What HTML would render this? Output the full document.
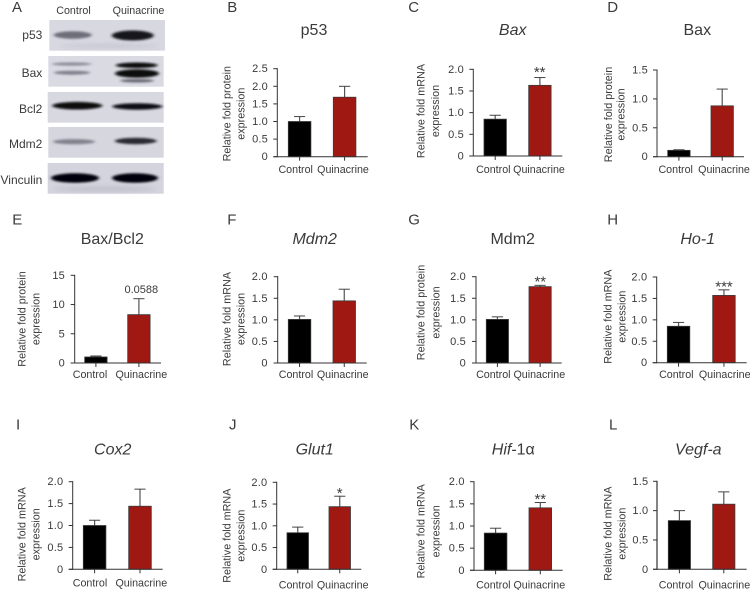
<!DOCTYPE html>
<html lang="en">
<head>
<meta charset="utf-8">
<title>Quinacrine western blot and expression charts</title>
<style>
html,body{margin:0;padding:0;background:#fff;width:750px;height:590px;overflow:hidden}
svg{display:block}
text{font-family:"Liberation Sans",Arial,sans-serif;fill:#3a3a3a}
</style>
</head>
<body>
<svg id="figure" xmlns="http://www.w3.org/2000/svg" width="750" height="590" viewBox="0 0 750 590">
  <defs>
    <filter id="blur" x="-30%" y="-150%" width="160%" height="400%"><feGaussianBlur stdDeviation="1.6 1.1"/></filter>
    <filter id="blur2" x="-30%" y="-150%" width="160%" height="400%"><feGaussianBlur stdDeviation="3 2.4"/></filter>
  </defs>
  <g id="blot">
    <text x="73.5" y="14" font-size="10.7" text-anchor="middle">Control</text>
    <text x="138.5" y="14" font-size="10.7" text-anchor="middle">Quinacrine</text>

    <g>
      <rect x="49.3" y="20" width="115.7" height="30.7" fill="#d8d8e1"/>
      <ellipse cx="72.7" cy="35" rx="19" ry="3.8" fill="#6e6e7a" filter="url(#blur)"/>
      <ellipse cx="132.7" cy="35.5" rx="21" ry="5" fill="#17171c" filter="url(#blur)"/>
      <ellipse cx="110" cy="46" rx="50" ry="2" fill="#c6c6d0" filter="url(#blur2)"/>
      <text x="42.3" y="39" font-size="12" text-anchor="end">p53</text>
    </g>
    <g>
      <rect x="48.3" y="56" width="115.4" height="30.7" fill="#dadae3"/>
      <ellipse cx="71.7" cy="64" rx="20" ry="1.6" fill="#8c8c98" filter="url(#blur)"/>
      <ellipse cx="72" cy="72.7" rx="18" ry="2" fill="#80808c" filter="url(#blur)"/>
      <ellipse cx="136.7" cy="65.3" rx="21" ry="2.8" fill="#0c0c10" filter="url(#blur)"/>
      <ellipse cx="137" cy="73.5" rx="22" ry="4.2" fill="#08080c" filter="url(#blur)"/>
      <ellipse cx="137" cy="80.7" rx="17" ry="1.8" fill="#6a6a76" filter="url(#blur)"/>
      <text x="42.3" y="77" font-size="12" text-anchor="end">Bax</text>
    </g>
    <g>
      <rect x="47.7" y="92" width="116" height="30.7" fill="#d8d8e1"/>
      <ellipse cx="77.3" cy="105.7" rx="25" ry="3.8" fill="#0a0a0e" filter="url(#blur)"/>
      <ellipse cx="137.3" cy="106.5" rx="25" ry="3.2" fill="#111116" filter="url(#blur)"/>
      <text x="42.3" y="113" font-size="12" text-anchor="end">Bcl2</text>
    </g>
    <g>
      <rect x="48.3" y="127" width="115.4" height="30.7" fill="#d6d6df"/>
      <ellipse cx="74" cy="141.7" rx="21" ry="2.6" fill="#82828e" filter="url(#blur)"/>
      <ellipse cx="135.7" cy="141" rx="21" ry="3.2" fill="#2a2a32" filter="url(#blur)"/>
      <text x="42.3" y="148" font-size="12" text-anchor="end">Mdm2</text>
    </g>
    <g>
      <rect x="47.7" y="163" width="116" height="30.7" fill="#d4d4de"/>
      <ellipse cx="75" cy="178" rx="24" ry="4.8" fill="#060608" filter="url(#blur)"/>
      <ellipse cx="135" cy="178" rx="23" ry="4.8" fill="#060608" filter="url(#blur)"/>
      <ellipse cx="105" cy="189" rx="52" ry="2" fill="#bcbcc8" filter="url(#blur2)"/>
      <text x="42.3" y="184" font-size="12" text-anchor="end">Vinculin</text>
    </g>
  </g>
</svg>
<script>
// Chart data
const categories = ['Control', 'Quinacrine'];
const ticks25 = ['0', '0.5', '1.0', '1.5', '2.0', '2.5'];
const ticks20 = ['0', '0.5', '1.0', '1.5', '2.0'];
const ticks15 = ['0', '0.5', '1.0', '1.5'];
const ticksE = ['0', '5', '10', '15'];

const valuesB = [1.0, 1.69];   const errorsB = [0.14, 0.31];
const valuesC = [0.85, 1.63];  const errorsC = [0.09, 0.18];
const valuesD = [0.11, 0.88];  const errorsD = [0.01, 0.29];
const valuesE = [1.03, 8.27];  const errorsE = [0.17, 2.73];
const valuesF = [1.01, 1.44];  const errorsF = [0.08, 0.27];
const valuesG = [1.01, 1.77];  const errorsG = [0.06, 0.03];
const valuesH = [0.85, 1.57];  const errorsH = [0.09, 0.13];
const valuesI = [1.0, 1.44];   const errorsI = [0.12, 0.39];
const valuesJ = [0.84, 1.44];  const errorsJ = [0.13, 0.24];
const valuesK = [0.84, 1.41];  const errorsK = [0.11, 0.12];
const valuesL = [0.83, 1.11];  const errorsL = [0.17, 0.21];

const PROTEIN = 'Relative fold protein';
const MRNA = 'Relative fold mRNA';

const panels = [
  {id:'b',letter:'B',lx:227.3,ly:12,title:'p53',italic:false,tc:314,tb:35,ticks:ticks25,values:valuesB,errors:errorsB,ylabel:PROTEIN,axX:277.3,y0:156.7,yT:68.7,right:367.7,bar:288.3,step:45,w:22.6,cat1:295.7,cat2:343,catY:173,yl1:226.7,yl2:240.7,ylc:113.7,tr:268},
  {id:'c',letter:'C',lx:408.3,ly:12,title:'Bax',italic:true,tc:512.7,tb:35,ticks:ticks20,values:valuesC,errors:errorsC,ylabel:MRNA,axX:473.3,y0:156,yT:69.3,right:562.3,bar:484,step:44.7,w:22.4,cat1:493.3,cat2:539,catY:173,yl1:421,yl2:435.3,ylc:111,tr:464,note:'**',nx:539.7,ny:73},
  {id:'d',letter:'D',lx:607.3,ly:12,title:'Bax',italic:false,tc:697.3,tb:35,ticks:ticks15,values:valuesD,errors:errorsD,ylabel:PROTEIN,axX:657,y0:156.7,yT:70,right:744,bar:667.7,step:43.3,w:22.4,cat1:675.7,cat2:724,catY:173,yl1:608.3,yl2:621,ylc:114.5,tr:648},
  {id:'e',letter:'E',lx:12.3,ly:224.3,title:'Bax/Bcl2',italic:false,tc:112.3,tb:244,ticks:ticksE,values:valuesE,errors:errorsE,ylabel:PROTEIN,axX:74.7,y0:363,yT:275.3,right:161,bar:84.7,step:43,w:22.4,cat1:90,cat2:141.3,catY:378,yl1:21.7,yl2:36,ylc:319,tr:65,note:'0.0588',nx:141.3,ny:293,noteSize:11},
  {id:'f',letter:'F',lx:227.3,ly:224.3,title:'Mdm2',italic:true,tc:314.7,tb:244,ticks:ticks20,values:valuesF,errors:errorsF,ylabel:MRNA,axX:277.7,y0:363,yT:276.7,right:366.7,bar:288.3,step:44.7,w:22.5,cat1:296,cat2:342.7,catY:378,yl1:226.7,yl2:240.7,ylc:319,tr:267.7},
  {id:'g',letter:'G',lx:408.3,ly:224.3,title:'Mdm2',italic:false,tc:512.7,tb:244,ticks:ticks20,values:valuesG,errors:errorsG,ylabel:PROTEIN,axX:476,y0:363,yT:276.7,right:561.7,bar:486.3,step:42.7,w:22.2,cat1:493.3,cat2:539.3,catY:378,yl1:421,yl2:435.7,ylc:312.5,tr:466,note:'**',nx:540.3,ny:282.5},
  {id:'h',letter:'H',lx:607.3,ly:224.3,title:'Ho-1',italic:true,tc:697.7,tb:244,ticks:ticks20,values:valuesH,errors:errorsH,ylabel:MRNA,axX:656.7,y0:362.7,yT:277,right:746.7,bar:667.3,step:45.4,w:22.5,cat1:676.3,cat2:724.7,catY:378,yl1:607.7,yl2:621.7,ylc:316.7,tr:647.3,note:'***',nx:724,ny:287.5},
  {id:'i',letter:'I',lx:16,ly:429.3,title:'Cox2',italic:true,tc:112.7,tb:454.3,ticks:ticks20,values:valuesI,errors:errorsI,ylabel:MRNA,axX:72.7,y0:569.3,yT:481.7,right:162.7,bar:83.3,step:45.4,w:22.6,cat1:90,cat2:141.3,catY:586.7,yl1:21.7,yl2:36,ylc:534.3,tr:63.3},
  {id:'j',letter:'J',lx:229,ly:429.3,title:'Glut1',italic:true,tc:314.7,tb:454.3,ticks:ticks20,values:valuesJ,errors:errorsJ,ylabel:MRNA,axX:276.7,y0:569.3,yT:482.3,right:361.3,bar:287,step:42,w:21.5,cat1:296,cat2:342.7,catY:588.5,yl1:226.7,yl2:240.7,ylc:535.7,tr:267.3,note:'*',nx:339.7,ny:494},
  {id:'k',letter:'K',lx:409.3,ly:429.3,title:'Hif',italic:true,titleSuffix:'-1α',tc:513.3,tb:454.3,ticks:ticks20,values:valuesK,errors:errorsK,ylabel:MRNA,axX:474,y0:570.3,yT:481.7,right:562.7,bar:484.3,step:44.7,w:22.6,cat1:493.3,cat2:539.3,catY:588.5,yl1:421,yl2:435.7,ylc:531.3,tr:464.7,note:'**',nx:540.3,ny:500},
  {id:'l',letter:'L',lx:609,ly:429.3,title:'Vegf-a',italic:true,tc:698.3,tb:454.3,ticks:ticks15,values:valuesL,errors:errorsL,ylabel:MRNA,axX:657,y0:569.3,yT:481.3,right:746.7,bar:668.3,step:44.4,w:22.2,cat1:676,cat2:724.3,catY:588.5,yl1:607.7,yl2:621.7,ylc:533.7,tr:648.3,yAxisColor:'#666',yAxisWidth:1.6}
];

const NS = 'http://www.w3.org/2000/svg';
const figure = document.getElementById('figure');

function make(tag, attrs, parent, text) {
  const node = document.createElementNS(NS, tag);
  for (const key in attrs) node.setAttribute(key, attrs[key]);
  if (text !== undefined) node.textContent = text;
  parent.appendChild(node);
  return node;
}

// Panel A letter
const letterA = make('text', {x: 12, y: 12, 'font-size': 15}, figure, 'A');



panels.forEach(function (p) {
  const ymax = Math.max.apply(null, p.ticks.map(Number));
  const yScale = function (v) { return p.y0 - (v / ymax) * (p.y0 - p.yT); };
  const xScale = function (i) { return p.bar + i * p.step; };
  const catCenter = [p.cat1, p.cat2];

  const group = make('g', {}, figure);
  
  

  const letter = make('text', {x: p.lx, y: p.ly, 'font-size': 15}, group, p.letter);
  
  

  const title = make('text', {x: p.tc, y: p.tb, 'font-size': 16, 'text-anchor': 'middle', 'font-style': p.italic ? 'italic' : 'normal'}, group, p.title);
  
  
  if (p.titleSuffix) {
    const suffix = make('tspan', {'font-style': 'normal'}, title, p.titleSuffix);
    
    
  }

  // y axis title, two lines
  const yl1 = make('text', {x: 0, y: 0, 'font-size': 10.8, 'text-anchor': 'middle', transform: 'translate(' + (p.yl1 + 3.7) + ' ' + p.ylc + ') rotate(-90)'}, group, p.ylabel);
  
  
  const yl2 = make('text', {x: 0, y: 0, 'font-size': 10.8, 'text-anchor': 'middle', transform: 'translate(' + (p.yl2 + 3.7) + ' ' + p.ylc + ') rotate(-90)'}, group, 'expression');
  
  

  // bars
  p.values.forEach(function (v, i) {
    const top = yScale(v);
    const center = xScale(i) + p.w / 2;
    const errTop = yScale(v + p.errors[i]);

    const stem = make('line', {x1: center, x2: center, y1: top, y2: errTop, stroke: '#555', 'stroke-width': 1.2}, group);
    
    
    const cap = make('line', {x1: center - 5.6, x2: center + 5.6, y1: errTop, y2: errTop, stroke: '#444', 'stroke-width': 1}, group);
    
    

    const bar = make('rect', {x: xScale(i), y: top, width: p.w, height: p.y0 - top, fill: i === 0 ? '#000' : '#a01812', stroke: '#3a3a3a', 'stroke-width': 0.8}, group);
    
    

    const xTick = make('line', {x1: center, x2: center, y1: p.y0, y2: p.y0 + 4, stroke: '#333', 'stroke-width': 1}, group);
    
    

    const catLabel = make('text', {x: catCenter[i], y: p.catY, 'font-size': 10.7, 'text-anchor': 'middle'}, group, categories[i]);
    
    
  });

  // axes
  const yAxis = make('line', {x1: p.axX, x2: p.axX, y1: p.yT - 0.5, y2: p.y0 + 0.5, stroke: p.yAxisColor || '#333', 'stroke-width': p.yAxisWidth || 1}, group);
  
  
  const xAxis = make('line', {x1: p.axX - 4, x2: p.right, y1: p.y0, y2: p.y0, stroke: '#333', 'stroke-width': 1}, group);
  
  

  p.ticks.forEach(function (t) {
    const ty = yScale(Number(t));
    const mark = make('line', {x1: p.axX - 4, x2: p.axX, y1: ty, y2: ty, stroke: '#333', 'stroke-width': 1}, group);
    
    
    const label = make('text', {x: p.tr, y: ty + 3.5, 'font-size': 11, 'text-anchor': 'end', 'letter-spacing': 0.2}, group, t);
    
    
  });

  if (p.note) {
    const isStars = !p.noteSize;
    const note = make('text', {x: p.nx, y: p.ny + (isStars ? 4 : 0), 'font-size': isStars ? 15 : p.noteSize, 'text-anchor': 'middle'}, group, p.note);
    
    
  }
});
</script>
</body>
</html>
